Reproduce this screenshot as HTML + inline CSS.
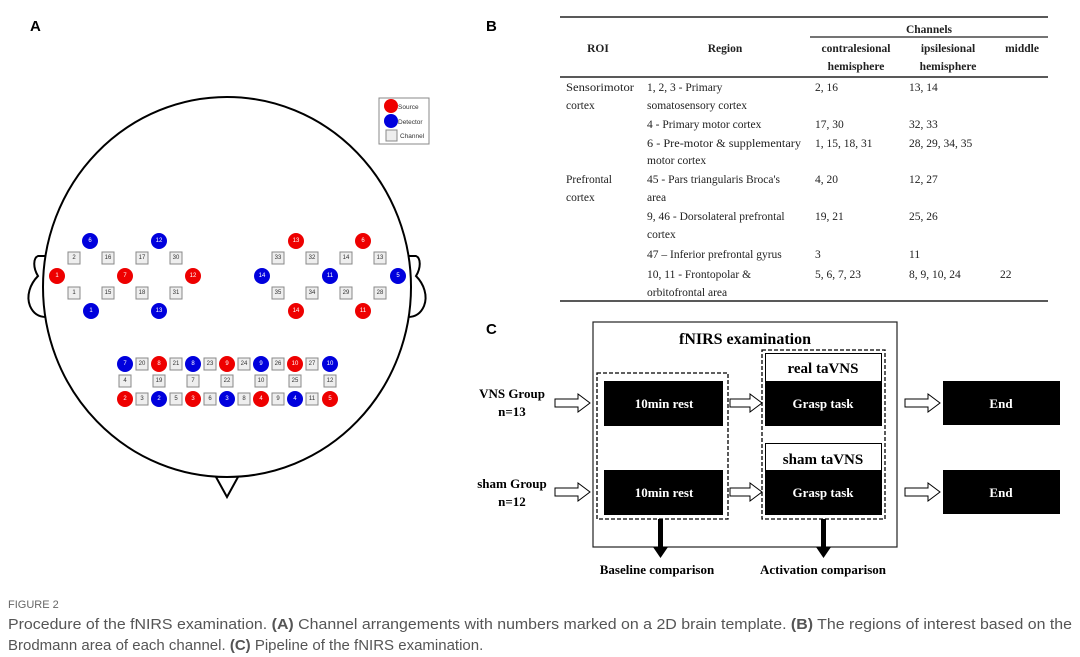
<!DOCTYPE html>
<html><head><meta charset="utf-8"><style>
html,body{margin:0;padding:0;background:#fff;width:1080px;height:657px;overflow:hidden}
svg{display:block}
.s{font-family:"Liberation Sans",sans-serif}
.r{font-family:"Liberation Serif",serif}
.n{font-family:"Liberation Sans",sans-serif;font-size:6px;text-anchor:middle;dominant-baseline:central}
</style></head><body>
<svg width="1080" height="657" viewBox="0 0 1080 657" xmlns="http://www.w3.org/2000/svg">
<text x="30" y="31" class="s" font-size="15" font-weight="bold">A</text>
<text x="486" y="31" class="s" font-size="15" font-weight="bold">B</text>
<text x="486" y="334" class="s" font-size="15" font-weight="bold">C</text>

<!-- head -->
<g fill="none" stroke="#000" stroke-width="2">
<path d="M45,256 L38,256 C33,258 33,268 38,276 C30,284 26,296 30,306 C33,313 38,317 46,317"/>
<path d="M409,256 L416,256 C421,258 421,268 416,276 C424,284 428,296 424,306 C421,313 416,317 408,317"/>
<ellipse cx="227" cy="287" rx="184" ry="190"/>
<path d="M216,477 L227,497 L238,477"/>
</g>
<!-- legend -->
<rect x="379" y="98" width="50" height="46" fill="#fff" stroke="#888"/>
<circle cx="391" cy="106" r="7" fill="#e00"/><text x="398" y="109" class="s" font-size="6.5" fill="#333">Source</text>
<circle cx="391" cy="121" r="7" fill="#00d"/><text x="398" y="124" class="s" font-size="6.5" fill="#333">Detector</text>
<rect x="386" y="130" width="11" height="11" fill="#eee" stroke="#888"/><text x="400" y="138" class="s" font-size="6.5" fill="#333">Channel</text>

<g stroke="none">
<circle cx="90" cy="241" r="8" fill="#00d"/><circle cx="159" cy="241" r="8" fill="#00d"/>
<circle cx="57" cy="276" r="8" fill="#e00"/><circle cx="125" cy="276" r="8" fill="#e00"/><circle cx="193" cy="276" r="8" fill="#e00"/>
<circle cx="91" cy="311" r="8" fill="#00d"/><circle cx="159" cy="311" r="8" fill="#00d"/>
<circle cx="296" cy="241" r="8" fill="#e00"/><circle cx="363" cy="241" r="8" fill="#e00"/>
<circle cx="262" cy="276" r="8" fill="#00d"/><circle cx="330" cy="276" r="8" fill="#00d"/><circle cx="398" cy="276" r="8" fill="#00d"/>
<circle cx="296" cy="311" r="8" fill="#e00"/><circle cx="363" cy="311" r="8" fill="#e00"/>
<circle cx="125" cy="364" r="8" fill="#00d"/><circle cx="159" cy="364" r="8" fill="#e00"/><circle cx="193" cy="364" r="8" fill="#00d"/><circle cx="227" cy="364" r="8" fill="#e00"/><circle cx="261" cy="364" r="8" fill="#00d"/><circle cx="295" cy="364" r="8" fill="#e00"/><circle cx="330" cy="364" r="8" fill="#00d"/>
<circle cx="125" cy="399" r="8" fill="#e00"/><circle cx="159" cy="399" r="8" fill="#00d"/><circle cx="193" cy="399" r="8" fill="#e00"/><circle cx="227" cy="399" r="8" fill="#00d"/><circle cx="261" cy="399" r="8" fill="#e00"/><circle cx="295" cy="399" r="8" fill="#00d"/><circle cx="330" cy="399" r="8" fill="#e00"/>
</g>
<g fill="#fff">
<text x="90" y="241" class="n">6</text><text x="159" y="241" class="n">12</text>
<text x="57" y="276" class="n">1</text><text x="125" y="276" class="n">7</text><text x="193" y="276" class="n">12</text>
<text x="91" y="311" class="n">1</text><text x="159" y="311" class="n">13</text>
<text x="296" y="241" class="n">13</text><text x="363" y="241" class="n">6</text>
<text x="262" y="276" class="n">14</text><text x="330" y="276" class="n">11</text><text x="398" y="276" class="n">5</text>
<text x="296" y="311" class="n">14</text><text x="363" y="311" class="n">11</text>
<text x="125" y="364" class="n">7</text><text x="159" y="364" class="n">8</text><text x="193" y="364" class="n">8</text><text x="227" y="364" class="n">9</text><text x="261" y="364" class="n">9</text><text x="295" y="364" class="n">10</text><text x="330" y="364" class="n">10</text>
<text x="125" y="399" class="n">2</text><text x="159" y="399" class="n">2</text><text x="193" y="399" class="n">3</text><text x="227" y="399" class="n">3</text><text x="261" y="399" class="n">4</text><text x="295" y="399" class="n">4</text><text x="330" y="399" class="n">5</text>
</g>
<g fill="#eee" stroke="#888" stroke-width="1">
<rect x="68" y="252" width="12" height="12"/><rect x="102" y="252" width="12" height="12"/><rect x="136" y="252" width="12" height="12"/><rect x="170" y="252" width="12" height="12"/>
<rect x="68" y="287" width="12" height="12"/><rect x="102" y="287" width="12" height="12"/><rect x="136" y="287" width="12" height="12"/><rect x="170" y="287" width="12" height="12"/>
<rect x="272" y="252" width="12" height="12"/><rect x="306" y="252" width="12" height="12"/><rect x="340" y="252" width="12" height="12"/><rect x="374" y="252" width="12" height="12"/>
<rect x="272" y="287" width="12" height="12"/><rect x="306" y="287" width="12" height="12"/><rect x="340" y="287" width="12" height="12"/><rect x="374" y="287" width="12" height="12"/>
<rect x="136" y="358" width="12" height="12"/><rect x="170" y="358" width="12" height="12"/><rect x="204" y="358" width="12" height="12"/><rect x="238" y="358" width="12" height="12"/><rect x="272" y="358" width="12" height="12"/><rect x="306" y="358" width="12" height="12"/>
<rect x="119" y="375" width="12" height="12"/><rect x="153" y="375" width="12" height="12"/><rect x="187" y="375" width="12" height="12"/><rect x="221" y="375" width="12" height="12"/><rect x="255" y="375" width="12" height="12"/><rect x="289" y="375" width="12" height="12"/><rect x="324" y="375" width="12" height="12"/>
<rect x="136" y="393" width="12" height="12"/><rect x="170" y="393" width="12" height="12"/><rect x="204" y="393" width="12" height="12"/><rect x="238" y="393" width="12" height="12"/><rect x="272" y="393" width="12" height="12"/><rect x="306" y="393" width="12" height="12"/>
</g>
<g fill="#333">
<text x="74" y="258" class="n">2</text><text x="108" y="258" class="n">16</text><text x="142" y="258" class="n">17</text><text x="176" y="258" class="n">30</text>
<text x="74" y="293" class="n">1</text><text x="108" y="293" class="n">15</text><text x="142" y="293" class="n">18</text><text x="176" y="293" class="n">31</text>
<text x="278" y="258" class="n">33</text><text x="312" y="258" class="n">32</text><text x="346" y="258" class="n">14</text><text x="380" y="258" class="n">13</text>
<text x="278" y="293" class="n">35</text><text x="312" y="293" class="n">34</text><text x="346" y="293" class="n">29</text><text x="380" y="293" class="n">28</text>
<text x="142" y="364" class="n">20</text><text x="176" y="364" class="n">21</text><text x="210" y="364" class="n">23</text><text x="244" y="364" class="n">24</text><text x="278" y="364" class="n">26</text><text x="312" y="364" class="n">27</text>
<text x="125" y="381" class="n">4</text><text x="159" y="381" class="n">19</text><text x="193" y="381" class="n">7</text><text x="227" y="381" class="n">22</text><text x="261" y="381" class="n">10</text><text x="295" y="381" class="n">25</text><text x="330" y="381" class="n">12</text>
<text x="142" y="399" class="n">3</text><text x="176" y="399" class="n">5</text><text x="210" y="399" class="n">6</text><text x="244" y="399" class="n">8</text><text x="278" y="399" class="n">9</text><text x="312" y="399" class="n">11</text>
</g>

<!-- table -->
<g stroke="#222">
<line x1="560" y1="17" x2="1048" y2="17" stroke-width="1.5"/>
<line x1="810" y1="37" x2="1048" y2="37" stroke-width="1.2"/>
<line x1="560" y1="77" x2="1048" y2="77" stroke-width="1.5"/>
<line x1="560" y1="301" x2="1048" y2="301" stroke-width="1.5"/>
</g>
<g class="r" font-size="11.5" fill="#222">
<g font-weight="bold" text-anchor="middle">
<text x="929" y="33">Channels</text>
<text x="598" y="52">ROI</text><text x="725" y="52">Region</text>
<text x="856" y="52">contralesional</text><text x="856" y="70">hemisphere</text>
<text x="948" y="52">ipsilesional</text><text x="948" y="70">hemisphere</text>
<text x="1022" y="52">middle</text>
</g>
<text x="566" y="91" textLength="68" lengthAdjust="spacingAndGlyphs">Sensorimotor</text><text x="566" y="109">cortex</text>
<text x="647" y="91">1, 2, 3 - Primary</text><text x="647" y="109">somatosensory cortex</text>
<text x="815" y="91">2, 16</text><text x="909" y="91">13, 14</text>
<text x="647" y="128">4 - Primary motor cortex</text><text x="815" y="128">17, 30</text><text x="909" y="128">32, 33</text>
<text x="647" y="147" textLength="154" lengthAdjust="spacingAndGlyphs">6 - Pre-motor &amp; supplementary</text><text x="647" y="164">motor cortex</text>
<text x="815" y="147">1, 15, 18, 31</text><text x="909" y="147">28, 29, 34, 35</text>
<text x="566" y="183">Prefrontal</text><text x="566" y="201">cortex</text>
<text x="647" y="183">45 - Pars triangularis Broca's</text><text x="647" y="201">area</text>
<text x="815" y="183">4, 20</text><text x="909" y="183">12, 27</text>
<text x="647" y="220">9, 46 - Dorsolateral prefrontal</text><text x="647" y="238">cortex</text>
<text x="815" y="220">19, 21</text><text x="909" y="220">25, 26</text>
<text x="647" y="258">47 – Inferior prefrontal gyrus</text><text x="815" y="258">3</text><text x="909" y="258">11</text>
<text x="647" y="278">10, 11 - Frontopolar &amp;</text><text x="647" y="296">orbitofrontal area</text>
<text x="815" y="278">5, 6, 7, 23</text><text x="909" y="278">8, 9, 10, 24</text><text x="1000" y="278">22</text>
</g>

<!-- pipeline -->
<rect x="593" y="322" width="304" height="225" fill="none" stroke="#222" stroke-width="1.2"/>
<text x="745" y="344" class="r" font-size="16" font-weight="bold" text-anchor="middle">fNIRS examination</text>
<rect x="597" y="373" width="131" height="146" fill="none" stroke="#000" stroke-width="1.3" stroke-dasharray="4,2"/>
<rect x="762" y="350" width="123" height="169" fill="none" stroke="#000" stroke-width="1.3" stroke-dasharray="4,2"/>
<rect x="604" y="381" width="119" height="45" fill="#000"/>
<rect x="604" y="470" width="119" height="45" fill="#000"/>
<rect x="765.5" y="353.5" width="116" height="28" fill="#fff" stroke="#000"/>
<rect x="765" y="381" width="117" height="45" fill="#000"/>
<rect x="765.5" y="443.5" width="116" height="27" fill="#fff" stroke="#000"/>
<rect x="765" y="470" width="117" height="45" fill="#000"/>
<rect x="943" y="381" width="117" height="44" fill="#000"/>
<rect x="943" y="470" width="117" height="44" fill="#000"/>
<g class="r" font-weight="bold" text-anchor="middle">
<g fill="#fff" font-size="13">
<text x="664" y="408">10min rest</text><text x="664" y="497">10min rest</text>
<text x="823" y="408">Grasp task</text><text x="823" y="497">Grasp task</text>
<text x="1001" y="408">End</text><text x="1001" y="497">End</text>
</g>
<g font-size="15"><text x="823" y="373">real taVNS</text><text x="823" y="464">sham taVNS</text></g>
<g font-size="13">
<text x="512" y="398">VNS Group</text><text x="512" y="416">n=13</text>
<text x="512" y="488">sham Group</text><text x="512" y="506">n=12</text>
<text x="657" y="574">Baseline comparison</text><text x="823" y="574">Activation comparison</text>
</g>
</g>
<g fill="#fff" stroke="#000" stroke-width="1">
<path d="M555,399 h23 v-5 l12,9 l-12,9 v-5 h-23z"/>
<path d="M555,488 h23 v-5 l12,9 l-12,9 v-5 h-23z"/>
<path d="M730,399 h20 v-5 l12,9 l-12,9 v-5 h-20z"/>
<path d="M730,488 h20 v-5 l12,9 l-12,9 v-5 h-20z"/>
<path d="M905,399 h23 v-5 l12,9 l-12,9 v-5 h-23z"/>
<path d="M905,488 h23 v-5 l12,9 l-12,9 v-5 h-23z"/>
</g>
<g fill="#000">
<path d="M658,519 h5 v28 h5 l-7.5,11 l-7.5,-11 h5z"/>
<path d="M821,519 h5 v28 h5 l-7.5,11 l-7.5,-11 h5z"/>
</g>

<!-- caption -->
<text x="8" y="608" class="s" font-size="11" fill="#666">FIGURE 2</text>
<text x="8" y="629" class="s" font-size="15" fill="#555" textLength="1064" lengthAdjust="spacingAndGlyphs">Procedure of the fNIRS examination. <tspan font-weight="bold">(A)</tspan> Channel arrangements with numbers marked on a 2D brain template. <tspan font-weight="bold">(B)</tspan> The regions of interest based on the</text>
<text x="8" y="650" class="s" font-size="15" fill="#555">Brodmann area of each channel. <tspan font-weight="bold">(C)</tspan> Pipeline of the fNIRS examination.</text>
</svg>
</body></html>
